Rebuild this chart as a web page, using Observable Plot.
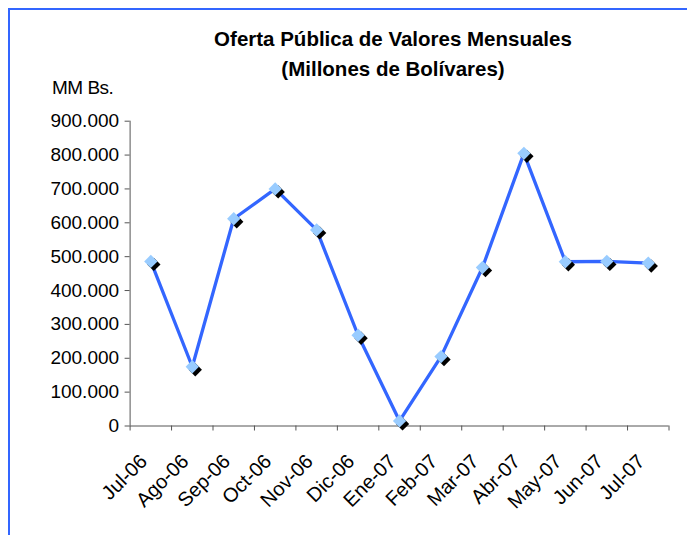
<!DOCTYPE html>
<html>
<head>
<meta charset="utf-8">
<script src="https://cdn.jsdelivr.net/npm/d3@7"></script>
<script src="https://cdn.jsdelivr.net/npm/@observablehq/plot@0.6"></script>
<style>
  html, body { margin: 0; padding: 0; background: #fff; }
  body { width: 687px; height: 535px; overflow: hidden; position: relative; font-family: "Liberation Sans", Arial, sans-serif; }
  #frame { position: absolute; left: 8px; top: 8px; width: 720px; height: 600px; border-top: 2.5px solid #3366ff; border-left: 2.5px solid #3366ff; }
  #title { position: absolute; left: 100px; width: 586px; top: 24px; text-align: center; font-weight: bold; font-size: 20.5px; line-height: 30px; color: #000; }
  #unit { position: absolute; left: 52px; top: 77px; font-size: 19px; color: #000; letter-spacing: -0.5px; }
  #chart { position: absolute; left: 0; top: 100px; }
</style>
</head>
<body>
<div id="frame"></div>
<div id="title">Oferta Pública de Valores Mensuales<br>(Millones de Bolívares)</div>
<div id="unit">MM Bs.</div>
<div id="chart"></div>
<script>
const months = ["Jul-06","Ago-06","Sep-06","Oct-06","Nov-06","Dic-06","Ene-07","Feb-07","Mar-07","Abr-07","May-07","Jun-07","Jul-07"];
const values = [486000, 175000, 612000, 700000, 579000, 268000, 15000, 205000, 468000, 805000, 485000, 486000, 481000];
const yTicks = [0, 100000, 200000, 300000, 400000, 500000, 600000, 700000, 800000, 900000];

const fmt = d3.formatLocale({decimal: ",", thousands: ".", grouping: [3], currency: ["", ""]}).format(",.0f");
const data = months.map((m, i) => ({i: i + 0.5, m, v: values[i]}));
const bounds = d3.range(months.length + 1);

const chart = Plot.plot({
  width: 687,
  height: 435,
  marginLeft: 129.6,
  marginRight: 18.5,
  marginTop: 20.7,
  marginBottom: 109.5,
  style: {fontFamily: "Liberation Sans, Arial, sans-serif", fontSize: "19px", color: "#000", background: "transparent", overflow: "visible"},
  x: {domain: [0, months.length], axis: null},
  y: {domain: [0, 900000], axis: null},
  marks: [
    Plot.axisY({ticks: yTicks, tickFormat: fmt, tickSize: 5, tickPadding: 6, label: null, stroke: "#555"}),
    Plot.axisX({ticks: bounds, tickSize: 5, tickFormat: () => "", label: null, stroke: "#555"}),
    Plot.axisX({ticks: data.map(d => d.i), tickSize: 0, tickPadding: 32, dx: -7, fontSize: 20, tickRotate: -45, tickFormat: d => months[d - 0.5], label: null}),
    Plot.ruleX([0], {stroke: "#555"}),
    Plot.ruleY([0], {stroke: "#555"}),
    Plot.line(data, {x: "i", y: "v", stroke: "#3366ff", strokeWidth: 3.3}),
    Plot.dot(data, {x: "i", y: "v", symbol: "diamond2", r: 6, fill: "#000", dx: 3, dy: 3}),
    Plot.dot(data, {x: "i", y: "v", symbol: "diamond2", r: 6, fill: "#99ccff"})
  ]
});
document.getElementById("chart").appendChild(chart);
</script>
</body>
</html>
